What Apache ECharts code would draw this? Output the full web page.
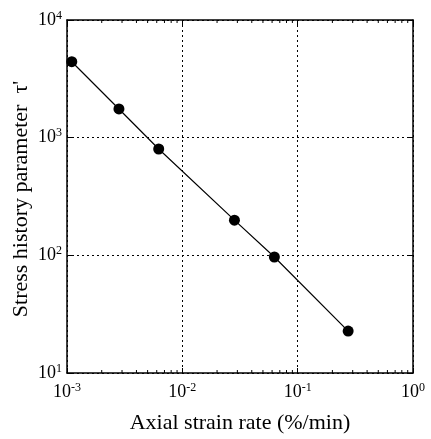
<!DOCTYPE html>
<html>
<head>
<meta charset="utf-8">
<script src="https://cdn.jsdelivr.net/npm/echarts@6/dist/echarts.min.js"></script>
<style>html,body{margin:0;padding:0;background:#fff}#c{width:431px;height:439px}</style>
</head>
<body>
<div id="c"></div>
<script>
// Data
var strainRate = [0.00110, 0.00282, 0.00624, 0.0283, 0.0628, 0.274];
var tauPrime = [4420, 1753, 801, 199, 96.8, 22.7];
// Axis ranges / ticks
var xMin = 0.001, xMax = 1;
var yMin = 10, yMax = 10000;
var xMinorTicks = [0.002,0.003,0.004,0.005,0.006,0.007,0.008,0.009,
                   0.02,0.03,0.04,0.05,0.06,0.07,0.08,0.09,
                   0.2,0.3,0.4,0.5,0.6,0.7,0.8,0.9];
var yMinorTicks = [20,30,40,50,60,70,80,90,200,300,400,500,600,700,800,900,
                   2000,3000,4000,5000,6000,7000,8000,9000];

var FONT = '"Liberation Serif", "DejaVu Serif", serif';
function expLabel(v){
  var e = Math.round(Math.log10(v));
  return '{b|10}{s|' + e + '}';
}
var rich = {
  b: {fontFamily: FONT, fontSize: 18, color: '#000'},
  s: {fontFamily: FONT, fontSize: 12, color: '#000', padding: [0,0,9,0]}
};
var pts = strainRate.map(function(x,i){return [x, tauPrime[i]];});

function axisCommon(){
  return {
    axisLine: {show: true, onZero: false, lineStyle: {color: '#000', width: 1.5}},
    axisTick: {show: true, inside: true, length: 5, lineStyle: {color: '#000', width: 1}},
    minorTick: {show: false},
    splitLine: {show: false}
  };
}

var chart = echarts.init(document.getElementById('c'), null, {renderer: 'canvas'});
var xMain = Object.assign(axisCommon(), {
  type: 'log', logBase: 10, min: xMin, max: xMax, position: 'bottom',
  name: 'Axial strain rate (%/min)', nameLocation: 'middle', nameGap: 39,
  nameTextStyle: {fontFamily: FONT, fontSize: 22, color: '#000'},
  axisLabel: {formatter: expLabel, rich: rich, margin: 9, fontFamily: FONT, fontSize: 18, color: '#000'},
  splitLine: {show: true, lineStyle: {color: '#000', type: [2,3], width: 1}}
});
var xTop = Object.assign(axisCommon(), {
  type: 'log', logBase: 10, min: xMin, max: xMax, position: 'top',
  axisLabel: {show: false}
});
var yMain = Object.assign(axisCommon(), {
  type: 'log', logBase: 10, min: yMin, max: yMax, position: 'left',
  name: "Stress history parameter  \u03c4'", nameLocation: 'middle', nameGap: 35,
  nameMoveOverlap: false,
  nameTextStyle: {fontFamily: FONT, fontSize: 22, color: '#000', padding: [0, 5, 0, 0]},
  axisLabel: {formatter: expLabel, rich: rich, margin: 5, fontFamily: FONT, fontSize: 18, color: '#000'},
  splitLine: {show: true, lineStyle: {color: '#000', type: [2,3], width: 1}}
});
var yRight = Object.assign(axisCommon(), {
  type: 'log', logBase: 10, min: yMin, max: yMax, position: 'right',
  axisLabel: {show: false}
});

function tickItem(isX){
  return function(params, api){
    var v = api.value(0);
    var style = {stroke: '#000', lineWidth: 1};
    var L = 3;
    if (isX) {
      var b = api.coord([v, yMin]);
      var t = api.coord([v, yMax]);
      return {type: 'group', children: [
        {type: 'line', shape: {x1: b[0], y1: b[1], x2: b[0], y2: b[1]-L}, style: style},
        {type: 'line', shape: {x1: t[0], y1: t[1], x2: t[0], y2: t[1]+L}, style: style}
      ]};
    } else {
      var l = api.coord([xMin, v]);
      var r = api.coord([xMax, v]);
      return {type: 'group', children: [
        {type: 'line', shape: {x1: l[0], y1: l[1], x2: l[0]+L, y2: l[1]}, style: style},
        {type: 'line', shape: {x1: r[0], y1: r[1], x2: r[0]-L, y2: r[1]}, style: style}
      ]};
    }
  };
}

chart.setOption({
  animation: false,
  backgroundColor: '#fff',
  grid: {left: 67, right: 18, top: 20, bottom: 66, containLabel: false, outerBoundsMode: 'none'},
  xAxis: [xMain, xTop],
  yAxis: [yMain, yRight],
  series: [
    {type: 'custom', xAxisIndex: 0, yAxisIndex: 0, renderItem: tickItem(true),
     data: xMinorTicks.map(function(v){return [v, yMin];}), silent: true, z: 1},
    {type: 'custom', xAxisIndex: 0, yAxisIndex: 0, renderItem: tickItem(false),
     data: yMinorTicks.map(function(v){return [xMin, v];}), silent: true, z: 1},
    {type: 'line', xAxisIndex: 0, yAxisIndex: 0, data: pts,
     symbol: 'circle', symbolSize: 11,
     lineStyle: {color: '#000', width: 1.2}, itemStyle: {color: '#000'}, z: 3}
  ]
});
</script>
</body>
</html>
